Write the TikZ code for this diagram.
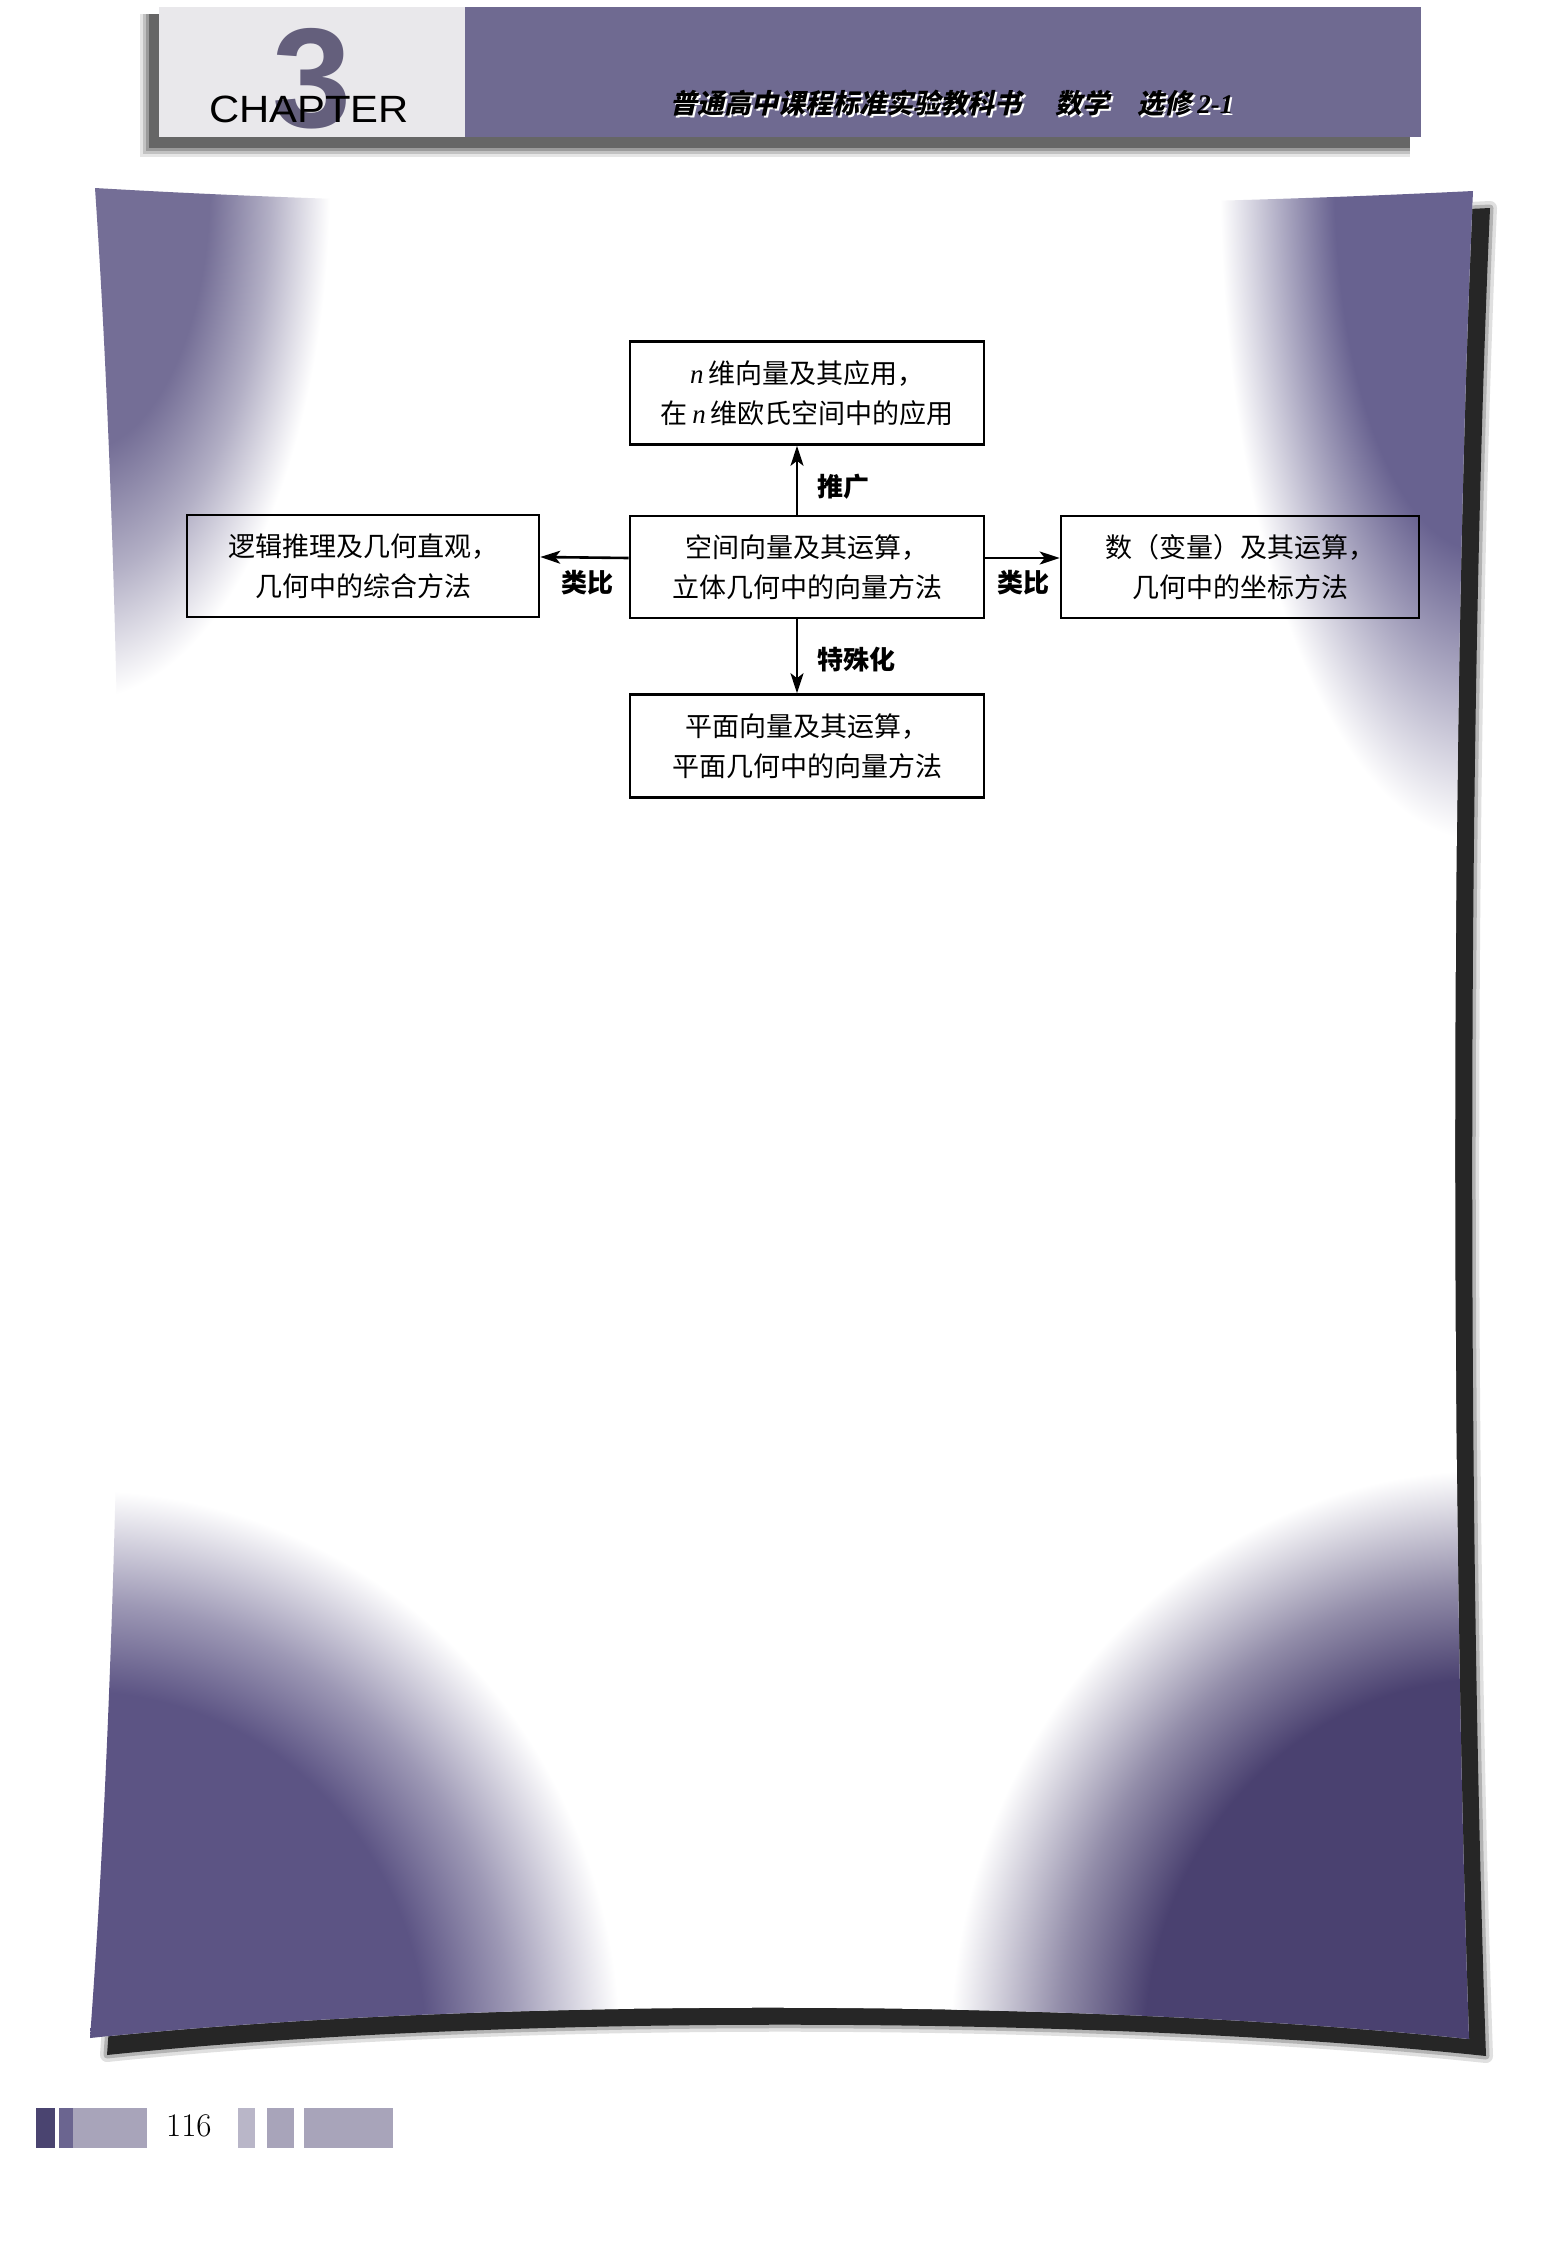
\documentclass[tikz,border=0pt]{standalone}
\usepackage{fontspec}
\usetikzlibrary{arrows.meta}
\newfontfamily\cjk{Noto Sans CJK SC}
\newfontfamily\cjkslant{Noto Sans CJK SC}[FakeSlant=0.22]
\newfontfamily\sansfam{Liberation Sans}
\newfontfamily\serifbi{Liberation Serif}

\definecolor{hdrpurp}{RGB}{111,106,145}
\definecolor{tlpurp}{RGB}{116,110,150}
\definecolor{trpurp}{RGB}{104,98,144}
\definecolor{blpurp}{RGB}{92,84,132}
\definecolor{brpurp}{RGB}{74,65,112}
\definecolor{threec}{RGB}{100,95,124}
\definecolor{hdrwhite}{RGB}{233,232,235}
\definecolor{footdark}{RGB}{74,68,112}
\definecolor{footmid}{RGB}{107,101,144}
\definecolor{footlight}{RGB}{168,164,186}

\pgfdeclareradialshading{fadeTL}{\pgfpointorigin}{color(0bp)=(tlpurp); color(13bp)=(tlpurp); color(19bp)=(tlpurp!55!white); color(25bp)=(white); color(50bp)=(white)}
\pgfdeclareradialshading{fadeTR}{\pgfpointorigin}{color(0bp)=(trpurp); color(14bp)=(trpurp); color(19bp)=(trpurp!55!white); color(25bp)=(white); color(50bp)=(white)}
\pgfdeclareradialshading{fadeBL}{\pgfpointorigin}{color(0bp)=(blpurp); color(16bp)=(blpurp); color(20bp)=(blpurp!60!white); color(25bp)=(white); color(50bp)=(white)}
\pgfdeclareradialshading{fadeBR}{\pgfpointorigin}{color(0bp)=(brpurp); color(16bp)=(brpurp); color(20bp)=(brpurp!60!white); color(25bp)=(white); color(50bp)=(white)}

\def\panelpath{(95,188) .. controls (500,212) and (1050,212) .. (1473,191) .. controls (1450,700) and (1450,1500) .. (1469,2039) .. controls (1100,2000) and (500,1995) .. (90,2038) .. controls (130,1500) and (130,700) .. (95,188) -- cycle}

\newcommand{\nvar}{{\serifbi\itshape n}}

\tikzset{
  boxnode/.style={draw, line width=2.6pt, minimum width=354pt, minimum height=103pt,
    align=center, inner sep=0pt, font=\cjk\fontsize{27}{40}\selectfont},
  conn/.style={line width=2.6pt, -{Stealth[length=20pt,width=13pt,inset=5pt]}},
  lbl/.style={inner sep=0pt, font=\cjk\bfseries\fontsize{26}{30}\selectfont},
}

\begin{document}
\begin{tikzpicture}[x=1pt,y=-1pt]
\useasboundingbox (0,0) rectangle (1546,2248);
\fill[white] (0,0) rectangle (1546,2248);

% ---------- header ----------
\foreach \e/\o in {9/0.10,6/0.15,3/0.2} {
  \fill[black, opacity=\o] (149-\e,14) rectangle (1410,148+\e);
}
\fill[black!60] (149,14) rectangle (1410,148);
\fill[hdrwhite] (159,7) rectangle (465,137);
\fill[hdrpurp] (465,7) rectangle (1421,137);
\node[anchor=base, inner sep=0pt, text=threec, font=\sansfam\bfseries\fontsize{142}{142}\selectfont] (three) at (312,127) {3};
\node[anchor=base west, inner sep=0pt, text=black, xscale=1.1, transform shape, font=\sansfam\fontsize{38}{40}\selectfont] (chapter) at (209,122) {CHAPTER};
\node[anchor=west, inner sep=0pt, text=white, font=\cjkslant\bfseries\fontsize{27}{30}\selectfont] (htitleshadow) at (672,105) {普通高中课程标准实验教科书\hspace{34pt}数学\hspace{28pt}选修 {\serifbi\bfseries\itshape 2-1}};
\node[anchor=west, inner sep=0pt, text=black, font=\cjkslant\bfseries\fontsize{27}{30}\selectfont] (htitle) at (670,103) {普通高中课程标准实验教科书\hspace{34pt}数学\hspace{28pt}选修 {\serifbi\bfseries\itshape 2-1}};

% ---------- panel shadow ----------
\begin{scope}[shift={(17,17)}]
  \draw[black, opacity=0.12, line width=14pt, line join=round] \panelpath;
  \draw[black, opacity=0.2, line width=7pt, line join=round] \panelpath;
  \fill[black!85] \panelpath;
\end{scope}

% ---------- panel ----------
\fill[white] \panelpath;
\begin{scope}
  \clip \panelpath;
  \shade[shading=fadeTL] (80,180) ellipse [x radius=250, y radius=520];
  \shade[shading=fadeTR] (1480,180) ellipse [x radius=260, y radius=660];
  \shade[shading=fadeBL] (80,2050) ellipse [x radius=540, y radius=560];
  \shade[shading=fadeBR] (1490,2050) ellipse [x radius=540, y radius=580];
\end{scope}

% ---------- diagram ----------
\node[boxnode] (top) at (807,393) {\nvar\,维向量及其应用，\\在\,\nvar\,维欧氏空间中的应用};
\node[boxnode, minimum height=102pt] (mid) at (807,567) {空间向量及其运算，\\立体几何中的向量方法};
\node[boxnode, minimum width=352pt, minimum height=102pt] (left) at (363,566) {逻辑推理及几何直观，\\几何中的综合方法};
\node[boxnode, minimum width=358pt, minimum height=102pt] (right) at (1240,567) {数（变量）及其运算，\\几何中的坐标方法};
\node[boxnode] (bot) at (807,746) {平面向量及其运算，\\平面几何中的向量方法};

\draw[conn] ([xshift=-10pt]mid.north) -- ([xshift=-10pt]top.south);
\draw[conn] ([xshift=-10pt]mid.south) -- ([xshift=-10pt]bot.north);
\draw[conn] ([yshift=9pt]mid.west) -- ([yshift=9pt]left.east);
\draw[conn] ([yshift=9pt]mid.east) -- ([yshift=9pt]right.west);

\node[lbl, anchor=west] (lup) at (817,487) {推广};
\node[lbl, anchor=west] (ldown) at (817,660) {特殊化};
\node[lbl] (lleft) at (587,583) {类比};
\node[lbl] (lright) at (1023,583) {类比};

% ---------- footer ----------
\fill[footdark] (36,2108) rectangle (55,2148);
\fill[footlight] (59,2108) rectangle (147,2148);
\fill[footmid] (59,2108) rectangle (73,2148);
\fill[footlight!80] (238,2108) rectangle (255,2148);
\fill[footlight] (267,2108) rectangle (294,2148);
\fill[footlight] (304,2108) rectangle (393,2148);
\node[anchor=base west, inner sep=0pt, font=\fontsize{33}{36}\selectfont] (pg) at (166,2136) {116};
\end{tikzpicture}
\end{document}
